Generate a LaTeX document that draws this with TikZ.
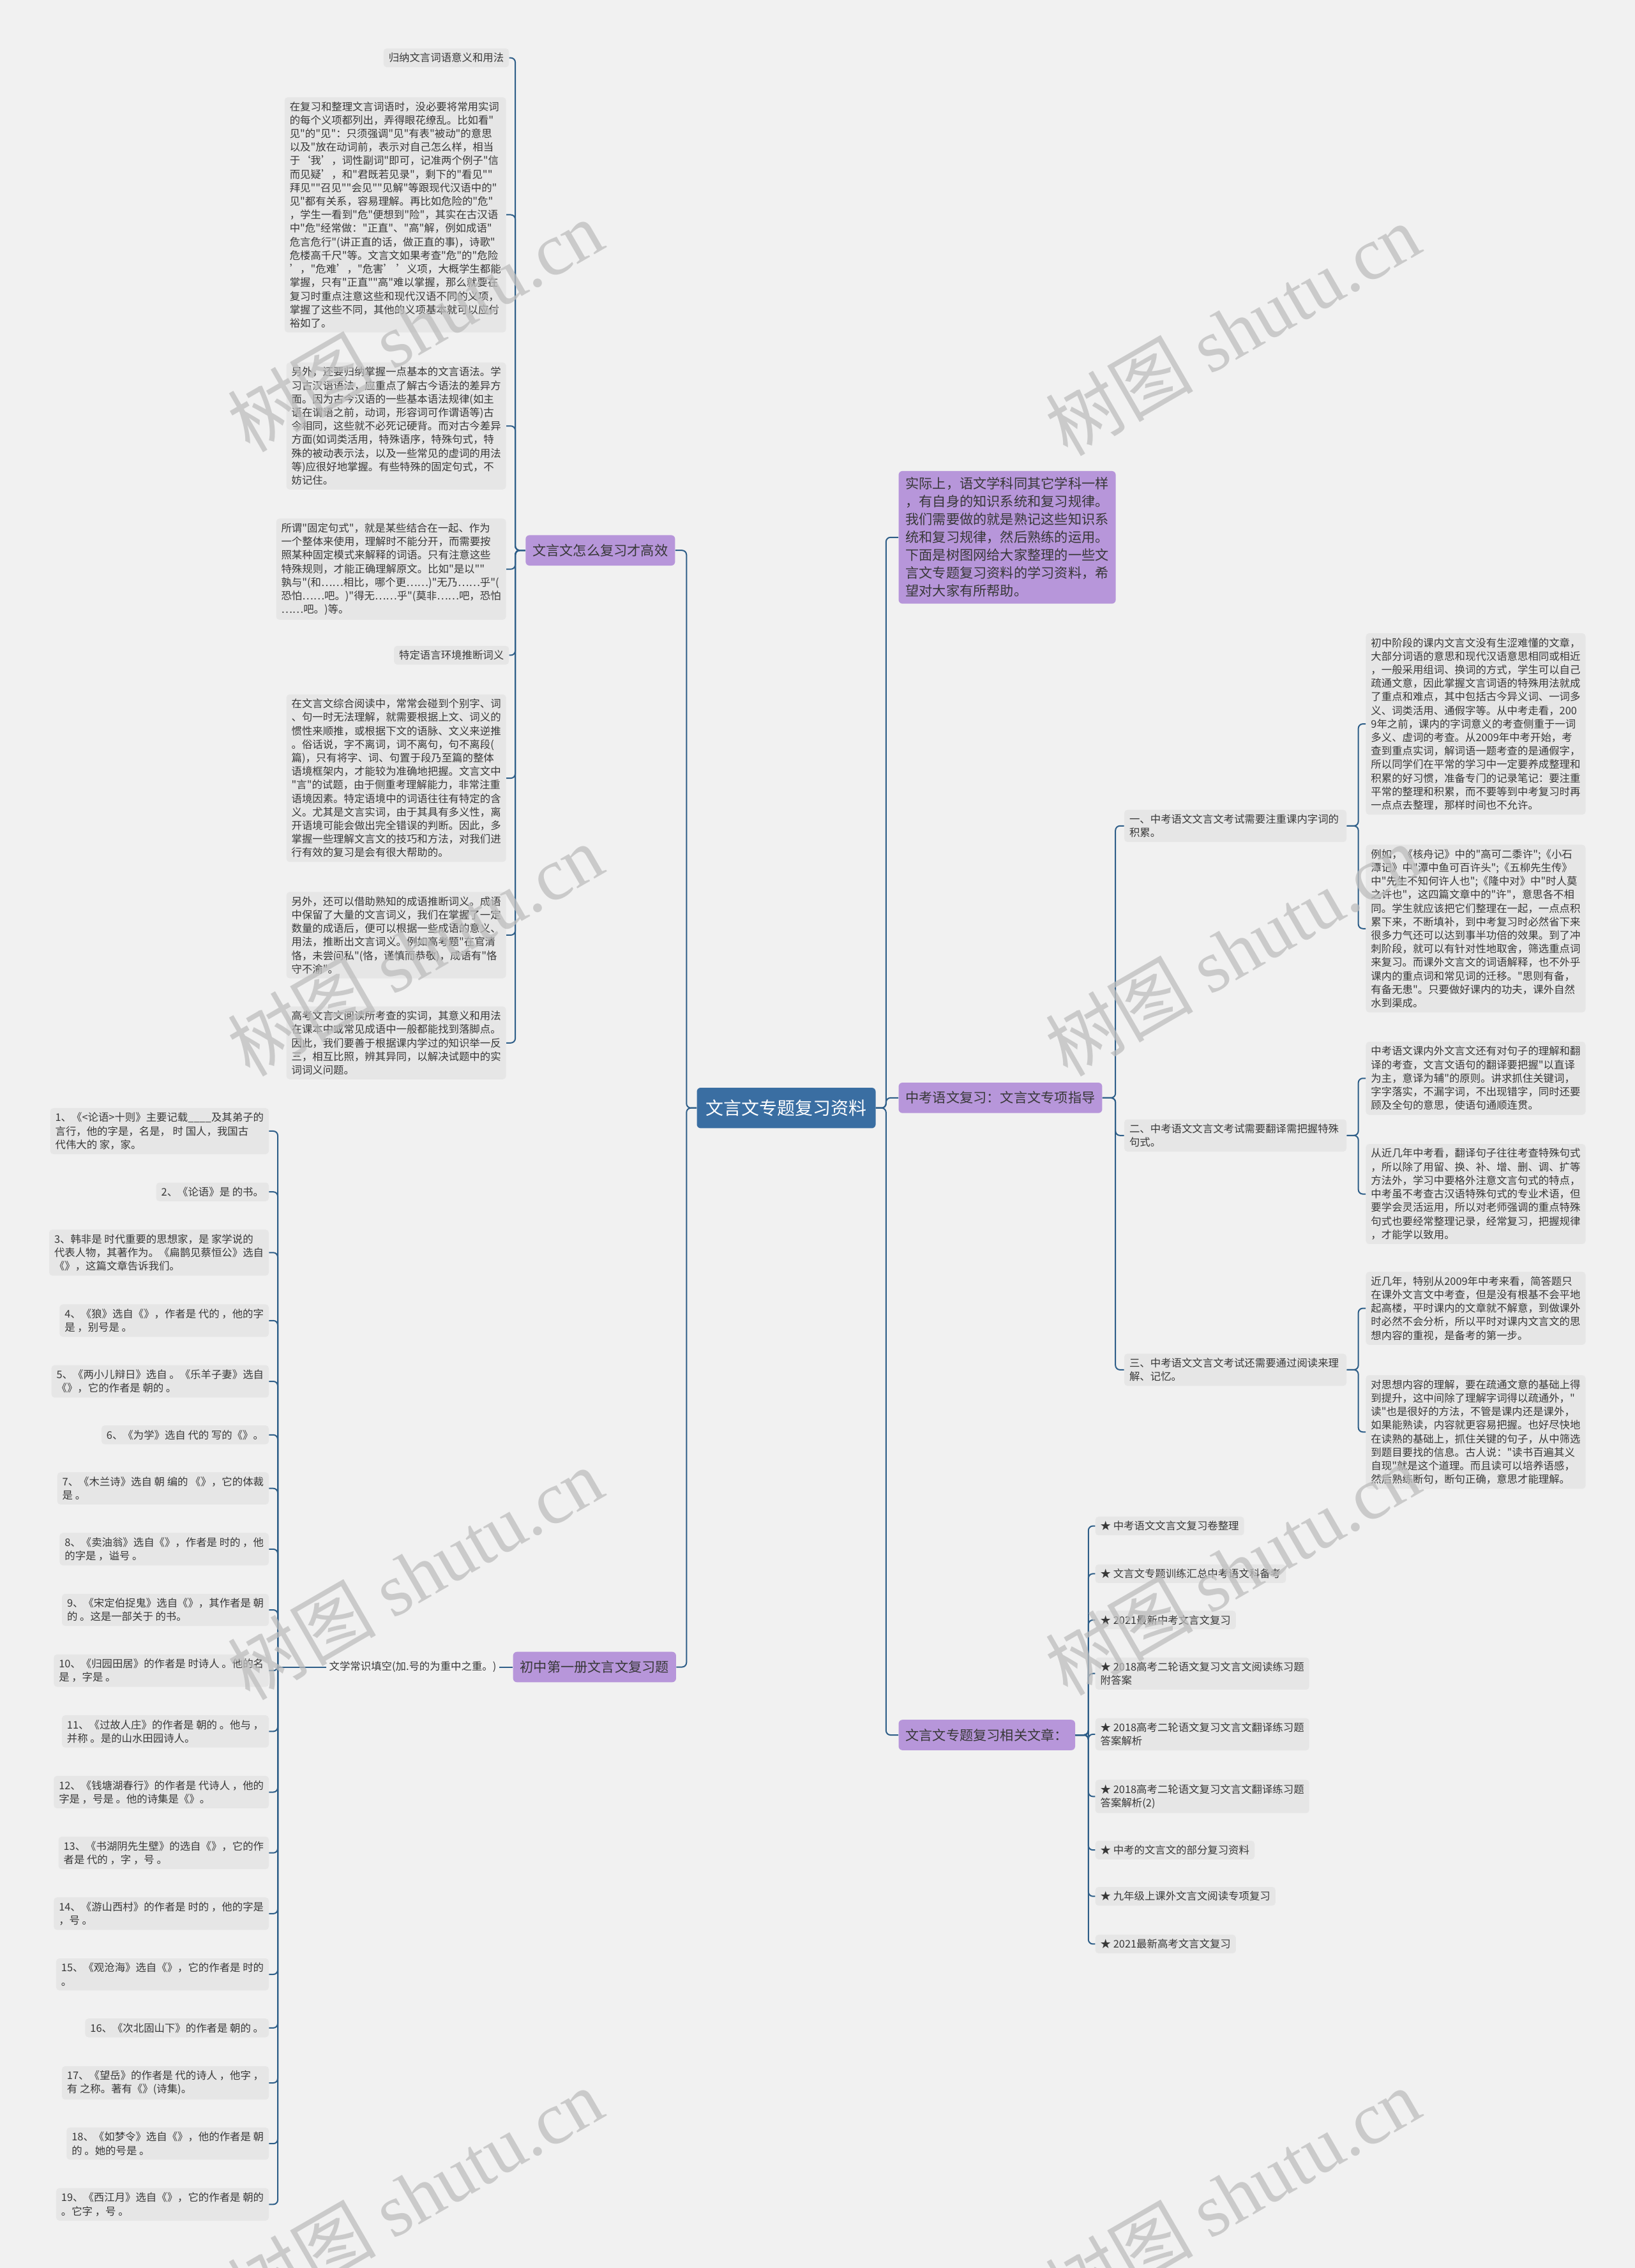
\documentclass[tikz,border=0pt]{standalone}
\usepackage{fontspec}
\newfontfamily\cjk{Noto Sans CJK SC}
\newfontfamily\wmlatin{Liberation Serif}
\usetikzlibrary{positioning}

\definecolor{bgcol}{HTML}{F1F1F1}
\definecolor{boxcol}{HTML}{E6E6E6}
\definecolor{linecol}{HTML}{2E5E88}
\definecolor{purp}{HTML}{B796DA}
\definecolor{rootcol}{HTML}{3A6EA2}
\definecolor{txt}{HTML}{383838}
\definecolor{wmcol}{HTML}{BDBDBD}

\tikzset{
  tbox/.style={fill=boxcol, rounded corners=2.5pt, inner xsep=4pt, inner ysep=3.5pt,
    align=left, text=txt, font=\cjk\fontsize{8.2}{10.6}\selectfont},
  subbox/.style={tbox, text width=166pt},
  topic/.style={fill=purp, rounded corners=3pt, inner xsep=5.5pt, inner ysep=3pt,
    minimum height=23.8pt, text=txt, font=\cjk\fontsize{10.6}{14}\selectfont},
  rootbox/.style={fill=rootcol, rounded corners=3pt, inner xsep=7pt,
    minimum height=31.7pt, text=white, font=\cjk\fontsize{14}{16}\selectfont},
  link/.style={draw=linecol, line width=1pt, rounded corners=3.5pt},
  wmark/.style={text=wmcol, opacity=0.75, rotate=30, font=\fontsize{58}{60}\selectfont}
}

\begin{document}
\begin{tikzpicture}[x=1.1328pt, y=-1.1328pt]
  \useasboundingbox (0,0) rectangle (1130,1568);
  \fill[bgcol] (0,0) rectangle (1130,1568);

  % centre and main branches
  \node[rootbox] (root) at (543.5,766) {文言文专题复习资料};
  \node[topic] (how) at (415,380.5) {文言文怎么复习才高效};
  \node[topic] (book) at (411,1152.5) {初中第一册文言文复习题};
  \node[topic, anchor=west, align=left, inner ysep=5pt] (intro) at (621,371.5) {实际上，语文学科同其它学科一样\\，有自身的知识系统和复习规律。\\我们需要做的就是熟记这些知识系\\统和复习规律，然后熟练的运用。\\下面是树图网给大家整理的一些文\\言文专题复习资料的学习资料，希\\望对大家有所帮助。};
  \node[topic, anchor=west] (guide) at (621,759) {中考语文复习：文言文专项指导};
  \node[topic, anchor=west] (links) at (621,1199.5) {文言文专题复习相关文章：};

  \draw[link] (root.west) -- ++(-7,0) |- (how.east);
  \draw[link] (root.west) -- ++(-7,0) |- (book.east);
  \draw[link] (root.east) -- ++(7,0) |- (intro.west);
  \draw[link] (root.east) -- ++(7,0) |- (guide.west);
  \draw[link] (root.east) -- ++(7,0) |- (links.west);

  % how to review
  \node[tbox, anchor=east] (how1) at (352,40) {归纳文言词语意义和用法};
  \node[tbox, anchor=east] (how2) at (350,148.5) {在复习和整理文言词语时，没必要将常用实词\\的每个义项都列出，弄得眼花缭乱。比如看"\\见"的"见"：只须强调"见"有表"被动"的意思\\以及"放在动词前，表示对自己怎么样，相当\\于‘我’，词性副词"即可，记准两个例子"信\\而见疑’，和"君既若见录"，剩下的"看见""\\拜见""召见""会见""见解"等跟现代汉语中的"\\见"都有关系，容易理解。再比如危险的"危"\\，学生一看到"危"便想到"险"，其实在古汉语\\中"危"经常做："正直"、"高"解，例如成语"\\危言危行"(讲正直的话，做正直的事)，诗歌"\\危楼高千尺"等。文言文如果考查"危"的"危险\\’，"危难’，"危害’ ’义项，大概学生都能\\掌握，只有"正直""高"难以掌握，那么就要在\\复习时重点注意这些和现代汉语不同的义项，\\掌握了这些不同，其他的义项基本就可以应付\\裕如了。};
  \node[tbox, anchor=east] (how3) at (350,294.5) {另外，还要归纳掌握一点基本的文言语法。学\\习古汉语语法，应重点了解古今语法的差异方\\面。因为古今汉语的一些基本语法规律(如主\\语在谓语之前，动词，形容词可作谓语等)古\\今相同，这些就不必死记硬背。而对古今差异\\方面(如词类活用，特殊语序，特殊句式，特\\殊的被动表示法，以及一些常见的虚词的用法\\等)应很好地掌握。有些特殊的固定句式，不\\妨记住。};
  \node[tbox, anchor=east] (how4) at (350,393.5) {所谓"固定句式"，就是某些结合在一起、作为\\一个整体来使用，理解时不能分开，而需要按\\照某种固定模式来解释的词语。只有注意这些\\特殊规则，才能正确理解原文。比如"是以""\\孰与"(和……相比，哪个更……)"无乃……乎"(\\恐怕……吧。)"得无……乎"(莫非……吧，恐怕\\……吧。)等。};
  \node[tbox, anchor=east] (how5) at (352,453) {特定语言环境推断词义};
  \node[tbox, anchor=east] (how6) at (350,538) {在文言文综合阅读中，常常会碰到个别字、词\\、句一时无法理解，就需要根据上文、词义的\\惯性来顺推，或根据下文的语脉、文义来逆推\\。俗话说，字不离词，词不离句，句不离段(\\篇)，只有将字、词、句置于段乃至篇的整体\\语境框架内，才能较为准确地把握。文言文中\\"言"的试题，由于侧重考理解能力，非常注重\\语境因素。特定语境中的词语往往有特定的含\\义。尤其是文言实词，由于其具有多义性，离\\开语境可能会做出完全错误的判断。因此，多\\掌握一些理解文言文的技巧和方法，对我们进\\行有效的复习是会有很大帮助的。};
  \node[tbox, anchor=east] (how7) at (350,646.5) {另外，还可以借助熟知的成语推断词义。成语\\中保留了大量的文言词义，我们在掌握了一定\\数量的成语后，便可以根据一些成语的意义、\\用法，推断出文言词义。例如高考题"在官清\\恪，未尝问私"(恪，谨慎而恭敬)，成语有"恪\\守不渝"。};
  \node[tbox, anchor=east] (how8) at (350,721) {高考文言文阅读所考查的实词，其意义和用法\\在课本中或常见成语中一般都能找到落脚点。\\因此，我们要善于根据课内学过的知识举一反\\三，相互比照，辨其异同，以解决试题中的实\\词词义问题。};
  \foreach \n in {how1,how2,how3,how4,how5,how6,how7,how8}
    \draw[link] (how.west) -- ++(-7,0) |- (\n.east);

  % guide
  \node[subbox, anchor=west] (g1) at (777,571) {一、中考语文文言文考试需要注重课内字词的\\积累。};
  \node[subbox, anchor=west] (g2) at (777,785) {二、中考语文文言文考试需要翻译需把握特殊\\句式。};
  \node[subbox, anchor=west] (g3) at (777,947) {三、中考语文文言文考试还需要通过阅读来理\\解、记忆。};
  \foreach \n in {g1,g2,g3}
    \draw[link] (guide.east) -- ++(9,0) |- (\n.west);

  \node[tbox, anchor=west] (g1a) at (944,500.5) {初中阶段的课内文言文没有生涩难懂的文章，\\大部分词语的意思和现代汉语意思相同或相近\\，一般采用组词、换词的方式，学生可以自己\\疏通文意，因此掌握文言词语的特殊用法就成\\了重点和难点，其中包括古今异义词、一词多\\义、词类活用、通假字等。从中考走看，200\\9年之前，课内的字词意义的考查侧重于一词\\多义、虚词的考查。从2009年中考开始，考\\查到重点实词，解词语一题考查的是通假字，\\所以同学们在平常的学习中一定要养成整理和\\积累的好习惯，准备专门的记录笔记：要注重\\平常的整理和积累，而不要等到中考复习时再\\一点点去整理，那样时间也不允许。};
  \node[tbox, anchor=west] (g1b) at (944,642) {例如，《核舟记》中的"高可二黍许";《小石\\潭记》中"潭中鱼可百许头";《五柳先生传》\\中"先生不知何许人也";《隆中对》中"时人莫\\之许也"，这四篇文章中的"许"，意思各不相\\同。学生就应该把它们整理在一起，一点点积\\累下来，不断填补，到中考复习时必然省下来\\很多力气还可以达到事半功倍的效果。到了冲\\刺阶段，就可以有针对性地取舍，筛选重点词\\来复习。而课外文言文的词语解释，也不外乎\\课内的重点词和常见词的迁移。"思则有备，\\有备无患"。只要做好课内的功夫，课外自然\\水到渠成。};
  \node[tbox, anchor=west] (g2a) at (944,745.5) {中考语文课内外文言文还有对句子的理解和翻\\译的考查，文言文语句的翻译要把握"以直译\\为主，意译为辅"的原则。讲求抓住关键词，\\字字落实，不漏字词，不出现错字，同时还要\\顾及全句的意思，使语句通顺连贯。};
  \node[tbox, anchor=west] (g2b) at (944,825.5) {从近几年中考看，翻译句子往往考查特殊句式\\，所以除了用留、换、补、增、删、调、扩等\\方法外，学习中要格外注意文言句式的特点，\\中考虽不考查古汉语特殊句式的专业术语，但\\要学会灵活运用，所以对老师强调的重点特殊\\句式也要经常整理记录，经常复习，把握规律\\，才能学以致用。};
  \node[tbox, anchor=west] (g3a) at (944,904.5) {近几年，特别从2009年中考来看，简答题只\\在课外文言文中考查，但是没有根基不会平地\\起高楼，平时课内的文章就不解意，到做课外\\时必然不会分析，所以平时对课内文言文的思\\想内容的重视，是备考的第一步。};
  \node[tbox, anchor=west] (g3b) at (944,990) {对思想内容的理解，要在疏通文意的基础上得\\到提升，这中间除了理解字词得以疏通外，"\\读"也是很好的方法，不管是课内还是课外，\\如果能熟读，内容就更容易把握。也好尽快地\\在读熟的基础上，抓住关键的句子，从中筛选\\到题目要找的信息。古人说："读书百遍其义\\自现"就是这个道理。而且读可以培养语感，\\然后熟练断句，断句正确，意思才能理解。};
  \draw[link] (g1.east) -- ++(8,0) |- (g1a.west);
  \draw[link] (g1.east) -- ++(8,0) |- (g1b.west);
  \draw[link] (g2.east) -- ++(8,0) |- (g2a.west);
  \draw[link] (g2.east) -- ++(8,0) |- (g2b.west);
  \draw[link] (g3.east) -- ++(8,0) |- (g3a.west);
  \draw[link] (g3.east) -- ++(8,0) |- (g3b.west);

  % related articles
  \node[tbox, anchor=west] (r1) at (757,1055) {★ 中考语文文言文复习卷整理};
  \node[tbox, anchor=west] (r2) at (757,1088) {★ 文言文专题训练汇总中考语文科备考};
  \node[tbox, anchor=west] (r3) at (757,1120) {★ 2021最新中考文言文复习};
  \node[tbox, anchor=west] (r4) at (757,1157) {★ 2018高考二轮语文复习文言文阅读练习题\\附答案};
  \node[tbox, anchor=west] (r5) at (757,1199) {★ 2018高考二轮语文复习文言文翻译练习题\\答案解析};
  \node[tbox, anchor=west] (r6) at (757,1242) {★ 2018高考二轮语文复习文言文翻译练习题\\答案解析(2)};
  \node[tbox, anchor=west] (r7) at (757,1279) {★ 中考的文言文的部分复习资料};
  \node[tbox, anchor=west] (r8) at (757,1311) {★ 九年级上课外文言文阅读专项复习};
  \node[tbox, anchor=west] (r9) at (757,1344) {★ 2021最新高考文言文复习};
  \foreach \n in {r1,r2,r3,r4,r5,r6,r7,r8,r9}
    \draw[link] (links.east) -- ++(9,0) |- (\n.west);

  % first book exercises
  \node[text=txt, font=\cjk\fontsize{8.2}{10.6}\selectfont, anchor=east, inner sep=2pt] (fill) at (345,1152.5) {文学常识填空(加.号的为重中之重。)};
  \coordinate (qs) at (192,1152.5);
  \draw[link] (book.west) -- (fill.east);
  \draw[link] (fill.west) -- (qs);

  \node[tbox, anchor=east] (q1) at (186,782) {1、《<论语>十则》主要记载\_\_\_\_及其弟子的\\言行，他的字是，名是， 时 国人，我国古\\代伟大的 家，家。};
  \node[tbox, anchor=east] (q2) at (186,824) {2、《论语》是 的书。};
  \node[tbox, anchor=east] (q3) at (186,866) {3、韩非是 时代重要的思想家，是 家学说的\\代表人物，其著作为。《扁鹊见蔡恒公》选自\\《》，这篇文章告诉我们。};
  \node[tbox, anchor=east] (q4) at (186,913) {4、《狼》选自《》，作者是 代的 ，他的字\\是 ，别号是 。};
  \node[tbox, anchor=east] (q5) at (186,955) {5、《两小儿辩日》选自 。《乐羊子妻》选自\\《》，它的作者是 朝的 。};
  \node[tbox, anchor=east] (q6) at (186,992) {6、《为学》选自 代的 写的《》。};
  \node[tbox, anchor=east] (q7) at (186,1029) {7、《木兰诗》选自 朝 编的 《》，它的体裁\\是 。};
  \node[tbox, anchor=east] (q8) at (186,1071) {8、《卖油翁》选自《》，作者是 时的 ，他\\的字是 ，谥号 。};
  \node[tbox, anchor=east] (q9) at (186,1113) {9、《宋定伯捉鬼》选自《》，其作者是 朝\\的 。这是一部关于 的书。};
  \node[tbox, anchor=east] (q10) at (186,1155) {10、《归园田居》的作者是 时诗人 。他的名\\是 ，字是 。};
  \node[tbox, anchor=east] (q11) at (186,1197) {11、《过故人庄》的作者是 朝的 。他与 ，\\并称 。是的山水田园诗人。};
  \node[tbox, anchor=east] (q12) at (186,1239) {12、《钱塘湖春行》的作者是 代诗人 ，他的\\字是 ，号是 。他的诗集是《》。};
  \node[tbox, anchor=east] (q13) at (186,1281) {13、《书湖阴先生壁》的选自《》，它的作\\者是 代的 ，字 ，号 。};
  \node[tbox, anchor=east] (q14) at (186,1323) {14、《游山西村》的作者是 时的 ，他的字是\\，号 。};
  \node[tbox, anchor=east] (q15) at (186,1365) {15、《观沧海》选自《》，它的作者是 时的\\。};
  \node[tbox, anchor=east] (q16) at (186,1402) {16、《次北固山下》的作者是 朝的 。};
  \node[tbox, anchor=east] (q17) at (186,1440) {17、《望岳》的作者是 代的诗人 ，他字 ，\\有 之称。著有《》(诗集)。};
  \node[tbox, anchor=east] (q18) at (186,1482) {18、《如梦令》选自《》，他的作者是 朝\\的 。她的号是 。};
  \node[tbox, anchor=east] (q19) at (186,1524) {19、《西江月》选自《》，它的作者是 朝的\\。它字 ，号 。};
  \foreach \n in {q1,q2,q3,q4,q5,q6,q7,q8,q9,q10,q11,q12,q13,q14,q15,q16,q17,q18,q19}
    \draw[link] (qs) |- (\n.east);

  % watermarks
  \foreach \wx/\wy [count=\i] in {287/225, 852/228, 287/657, 852/657, 287/1088, 852/1085, 287/1517, 852/1517}
    \node[wmark] (wm\i) at (\wx,\wy) {\cjk 树图\ \wmlatin shutu.cn};
\end{tikzpicture}
\end{document}
